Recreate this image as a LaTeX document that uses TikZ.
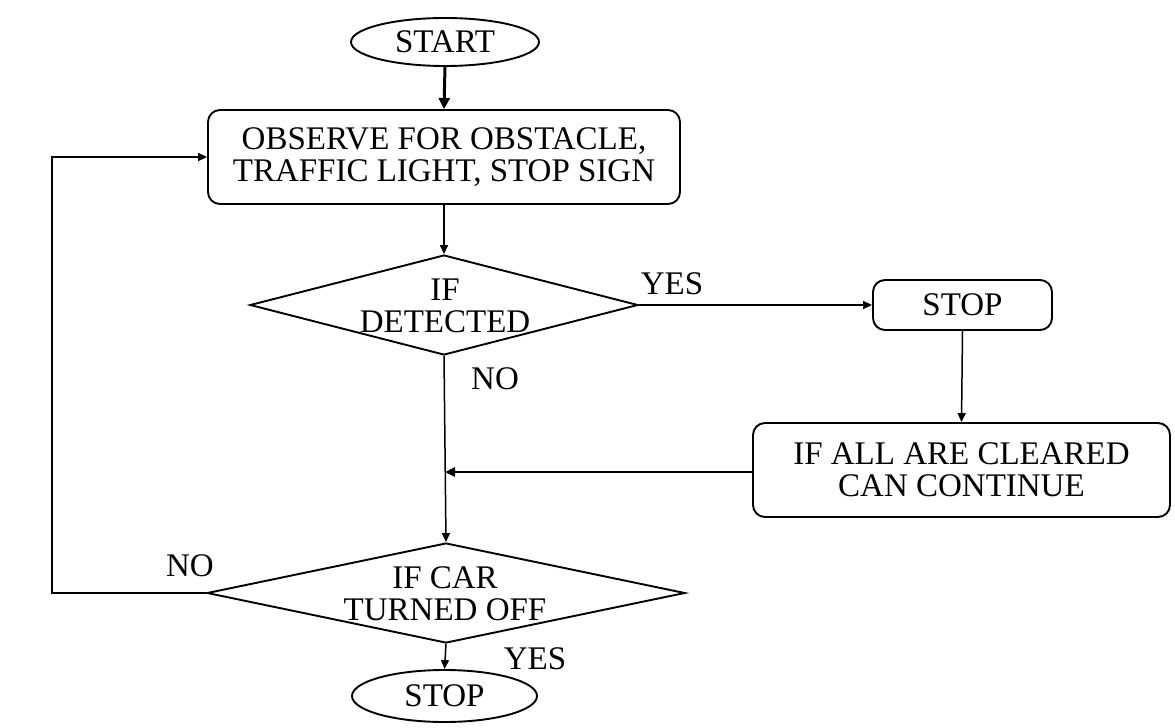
\documentclass[tikz,border=0pt]{standalone}
\usepackage{fontspec}
\setmainfont{Liberation Serif}
\usetikzlibrary{shapes.geometric,arrows.meta}
\begin{document}
\begin{tikzpicture}[x=1pt,y=-1pt,
  every node/.style={font=\fontsize{33}{32}\selectfont},
  box/.style={draw,line width=1.9pt,rounded corners=12pt,inner sep=0pt,align=center},
  oval/.style={draw,ellipse,line width=1.9pt,inner sep=0pt},
  dia/.style={draw,diamond,line width=1.9pt,inner sep=0pt},
  lbl/.style={inner sep=0pt,align=center},
  conn/.style={line width=1.5pt,-{Triangle[length=9pt,width=8pt]}},
  thick conn/.style={line width=3pt,-{Triangle[length=11pt,width=11pt]}}]
\useasboundingbox (0,0) rectangle (1175,728);
\node[oval,minimum width=188pt,minimum height=48pt] (start) at (445,42) {START};
\node[box,minimum width=472pt,minimum height=94pt] (obs) at (444,157) {OBSERVE FOR OBSTACLE,\\TRAFFIC LIGHT, STOP SIGN};
\node[dia,minimum width=388pt,minimum height=100pt] (d1) at (444,305) {};
\node[lbl] (d1t) at (445,306) {IF\\DETECTED};
\node[box,minimum width=179pt,minimum height=50pt] (stop1) at (962.5,305) {STOP};
\node[box,minimum width=417pt,minimum height=94pt] (clr) at (961.5,470) {IF ALL ARE CLEARED\\CAN CONTINUE};
\node[dia,minimum width=478pt,minimum height=100pt] (d2) at (446,593) {};
\node[lbl] (d2t) at (445,594) {IF CAR\\TURNED OFF};
\node[oval,minimum width=185pt,minimum height=52pt] (stop2) at (444.5,696) {STOP};
\node[lbl] (yes1) at (672,284) {YES};
\node[lbl] (no1) at (495,379) {NO};
\node[lbl] (no2) at (190,566) {NO};
\node[lbl] (yes2) at (535,659) {YES};
\coordinate (join) at (445,472);
\coordinate (lb) at (52,593);
\coordinate (lt) at (52,157);
\draw[thick conn] (start.south) -- (obs.north);
\draw[conn] (obs.south) -- (d1.north);
\draw[conn] (d1.east) -- (stop1.west);
\draw[conn] (stop1.south) -- (clr.north);
\draw[line width=2.5pt,-{Triangle[length=10pt,width=9pt]}] (clr.west |- join) -- (join);
\draw[conn] (d1.south) -- (d2.north);
\draw[line width=1.8pt,-{Triangle[length=9pt,width=8pt]}] (d2.west) -- (lb) -- (lt) -- (obs.west);
\draw[conn] (d2.south) -- (stop2.north);
\end{tikzpicture}
\end{document}
